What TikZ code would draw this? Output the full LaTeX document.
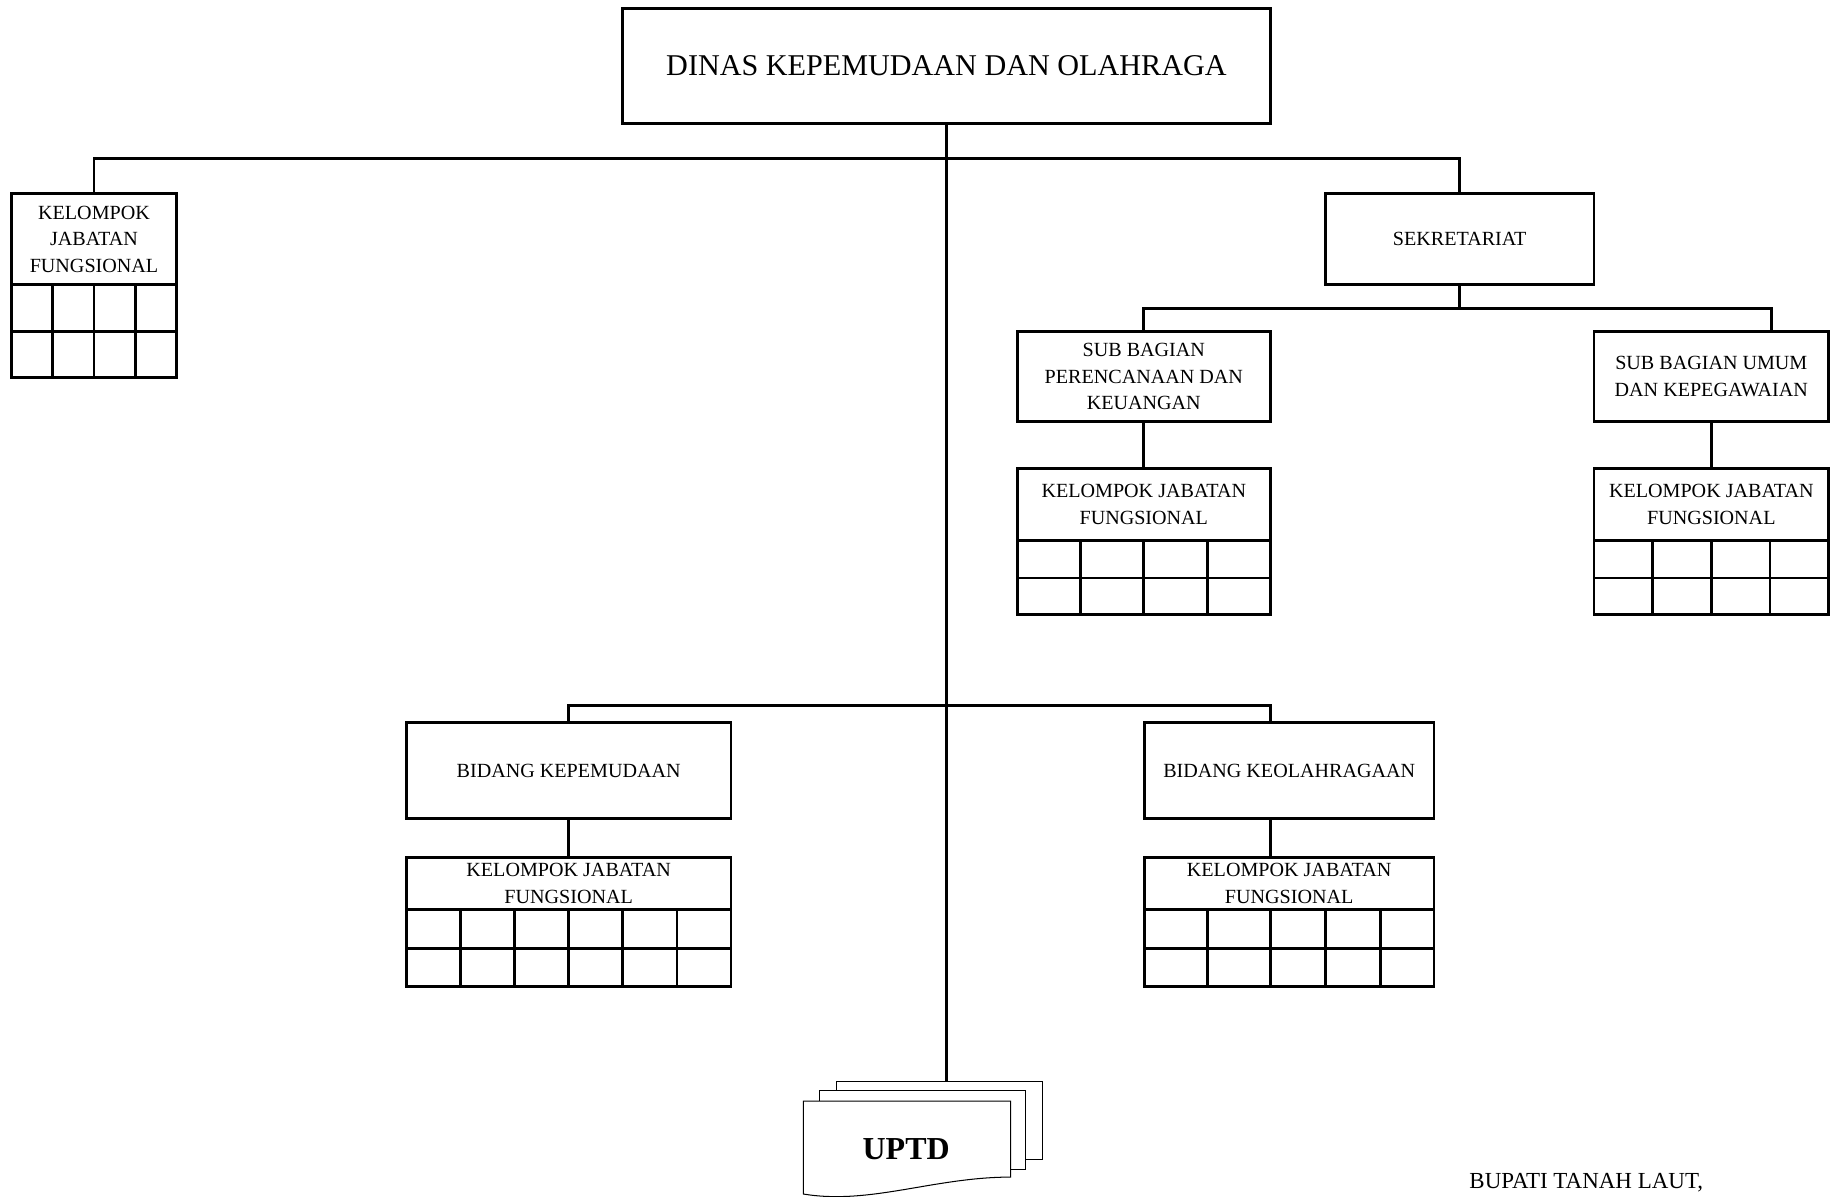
\documentclass[tikz,border=0pt]{standalone}
\usepackage{fontspec}
\setmainfont{Liberation Serif}
\usepackage{tikz}
\usetikzlibrary{positioning, calc}

\begin{document}
\begin{tikzpicture}[
    x=0.02cm,
    y=-0.02cm,
    unitbox/.style={
        rectangle,
        draw=black,
        line width=1.4pt,
        align=center,
        inner sep=0pt,
        font=\fontsize{9.8}{13}\selectfont
    },
    headbox/.style={
        unitbox,
        font=\fontsize{14.7}{17}\selectfont
    },
    conn/.style={
        draw=black,
        line width=1.4pt
    },
    sheet/.style={
        draw=black,
        line width=0.5pt,
        fill=white
    }
]

\useasboundingbox (0,0) rectangle (1568,1025);

% Kepala dinas
\node[headbox, minimum width=11.1cm, minimum height=1.98cm] (dinas) at (810.5,56.5) {DINAS KEPEMUDAAN DAN OLAHRAGA};

% Kelompok jabatan fungsional (kiri atas)
\node[unitbox, minimum width=2.82cm, minimum height=1.56cm] (kjfA) at (80.5,205) {KELOMPOK\\JABATAN\\FUNGSIONAL};
\draw[conn] (10,244) rectangle (151,323);
\draw[conn] (10,284) -- (151,284);
\foreach \x in {45.25,80.5,115.75} \draw[conn] (\x,244) -- (\x,323);

% Sekretariat
\node[unitbox, minimum width=4.6cm, minimum height=1.56cm] (sek) at (1250,205) {SEKRETARIAT};
\node[unitbox, minimum width=4.34cm, minimum height=1.54cm] (sbp) at (979.5,322.5) {SUB BAGIAN\\PERENCANAAN DAN\\KEUANGAN};
\node[unitbox, minimum width=4.02cm, minimum height=1.54cm] (sbu) at (1465.5,322.5) {SUB BAGIAN UMUM\\DAN KEPEGAWAIAN};

\node[unitbox, minimum width=4.34cm, minimum height=1.24cm] (kjfB) at (979.5,432) {KELOMPOK JABATAN\\FUNGSIONAL};
\draw[conn] (871,463) rectangle (1088,526);
\draw[conn] (871,495) -- (1088,495);
\foreach \x in {925.25,979.5,1033.75} \draw[conn] (\x,463) -- (\x,526);

\node[unitbox, minimum width=4.02cm, minimum height=1.24cm] (kjfC) at (1465.5,432) {KELOMPOK JABATAN\\FUNGSIONAL};
\draw[conn] (1365,463) rectangle (1566,526);
\draw[conn] (1365,495) -- (1566,495);
\foreach \x in {1415.25,1465.5,1515.75} \draw[conn] (\x,463) -- (\x,526);

% Bidang
\node[unitbox, minimum width=5.56cm, minimum height=1.64cm] (bkp) at (487,660) {BIDANG KEPEMUDAAN};
\node[unitbox, minimum width=4.96cm, minimum height=1.64cm] (bko) at (1104,660) {BIDANG KEOLAHRAGAAN};

\node[unitbox, minimum width=5.56cm, minimum height=0.9cm] (kjfD) at (487,756.5) {KELOMPOK JABATAN\\FUNGSIONAL};
\draw[conn] (348,779) rectangle (626,845);
\draw[conn] (348,812) -- (626,812);
\foreach \x in {394.3,440.7,487,533.3,579.7} \draw[conn] (\x,779) -- (\x,845);

\node[unitbox, minimum width=4.96cm, minimum height=0.9cm] (kjfE) at (1104,756.5) {KELOMPOK JABATAN\\FUNGSIONAL};
\draw[conn] (980,779) rectangle (1228,845);
\draw[conn] (980,812) -- (1228,812);
\foreach \x in {1034,1088,1135,1182} \draw[conn] (\x,779) -- (\x,845);

% UPTD
\draw[sheet] (716,926) rectangle (892.5,993);
\draw[sheet] (702,934) rectangle (878.5,1001.5);
\draw[sheet] (688,943) -- (865.5,943) -- (865.5,1008)
    .. controls (800,1008) and (745,1032) .. (688,1022.5) -- cycle;
\node[font=\bfseries\fontsize{15.6}{18}\selectfont] (uptd) at (776,984) {UPTD};

\node[font=\fontsize{11.2}{13}\selectfont, anchor=base west, inner sep=0pt] (bupati) at (1258,1018) {BUPATI TANAH LAUT,};

% Garis hubungan
\coordinate (bus1) at (810.5,136);
\coordinate (bus2) at (1250,264);
\coordinate (bus3) at (810.5,604);
\coordinate (uptdtop) at (810.5,926);
\coordinate (sbuin) at (1517,284);
\coordinate (bkoin) at (1088,619);
\coordinate (bkoout) at (1088,701);
\coordinate (kjfEin) at (1088,734);

\draw[conn] (dinas.south) -- (uptdtop);
\draw[conn] (kjfA.north) |- (bus1) -| (sek.north);
\draw[conn] (sek.south) -- (bus2);
\draw[conn] (sbp.north) |- (bus2) -| (sbuin);
\draw[conn] (sbp.south) -- (kjfB.north);
\draw[conn] (sbu.south) -- (kjfC.north);
\draw[conn] (bkp.north) |- (bus3) -| (bkoin);
\draw[conn] (bkp.south) -- (kjfD.north);
\draw[conn] (bkoout) -- (kjfEin);

\end{tikzpicture}
\end{document}
